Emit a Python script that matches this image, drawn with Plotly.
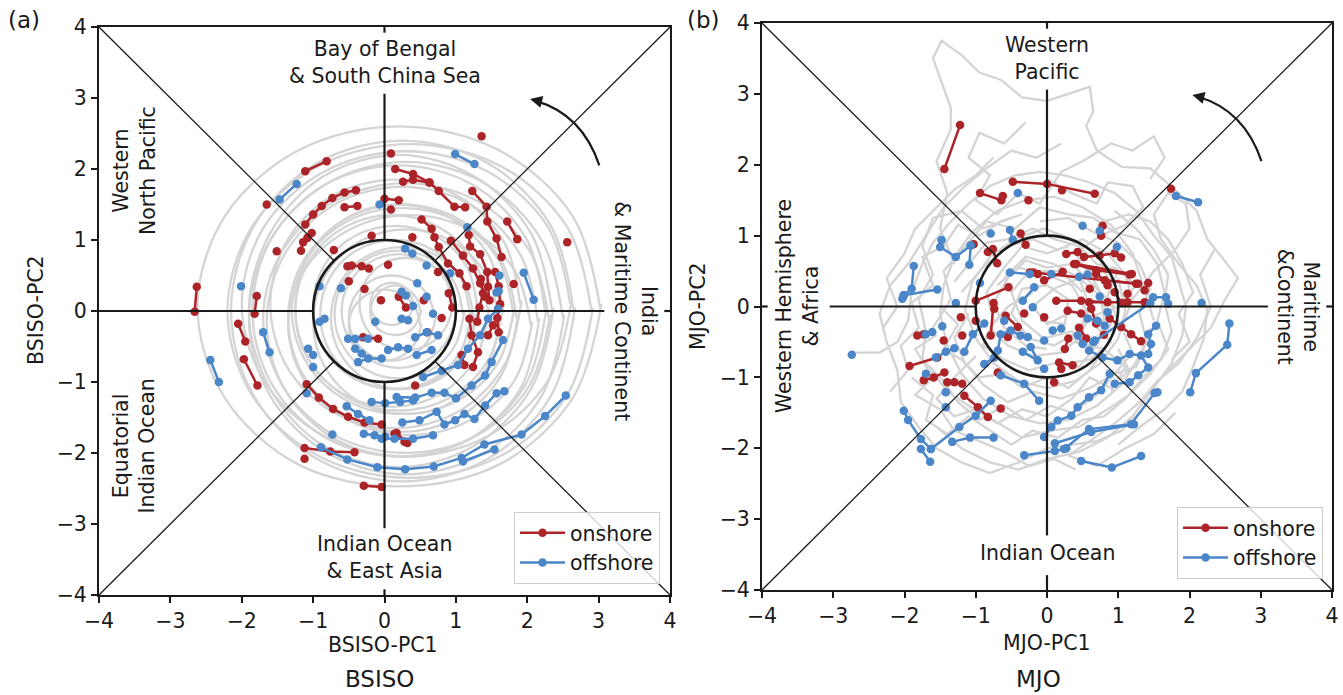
import plotly.graph_objects as go

# ---------------- DATA ----------------
# BSISO grey trajectories: each ring is a list of (PC1, PC2) points
bsiso_rings = [
    [(0.4,0.1),(0.36,0.25),(0.25,0.36),(0.1,0.4),(-0.05,0.36),(-0.16,0.25),(-0.2,0.1),(-0.16,-0.05),(-0.05,-0.16),(0.1,-0.2),(0.25,-0.16),(0.36,-0.05),(0.42,0.12)],
    [(0.50,0.0),(0.45,0.18),(0.33,0.30),(0.15,0.36),(-0.03,0.30),(-0.15,0.17),(-0.20,0.0),(-0.15,-0.18),(-0.02,-0.30),(0.15,-0.34),(0.32,-0.30),(0.45,-0.17),(0.52,0.02)],
    [(0.5,-0.2),(0.43,0.05),(0.25,0.23),(0,0.3),(-0.25,0.23),(-0.43,0.05),(-0.5,-0.2),(-0.43,-0.45),(-0.25,-0.63),(0,-0.7),(0.25,-0.63),(0.43,-0.45),(0.52,-0.18)],
    [(0.70,-0.1),(0.62,0.20),(0.40,0.42),(0.1,0.50),(-0.20,0.42),(-0.42,0.20),(-0.50,-0.1),(-0.42,-0.40),(-0.20,-0.62),(0.1,-0.70),(0.40,-0.62),(0.62,-0.40),(0.72,-0.08)],
    [(0.95,0.1),(0.86,0.43),(0.63,0.66),(0.3,0.75),(-0.03,0.66),(-0.26,0.43),(-0.35,0.1),(-0.26,-0.23),(-0.03,-0.46),(0.3,-0.55),(0.63,-0.46),(0.86,-0.23),(0.97,0.13)],
    [(1.0,0),(0.89,0.4),(0.6,0.69),(0.2,0.8),(-0.2,0.69),(-0.49,0.4),(-0.6,0),(-0.49,-0.4),(-0.2,-0.69),(0.2,-0.8),(0.6,-0.69),(0.89,-0.4),(1.02,0.03)],
    [(1.1,-0.05),(0.98,0.4),(0.65,0.73),(0.2,0.85),(-0.25,0.73),(-0.58,0.4),(-0.7,-0.05),(-0.58,-0.5),(-0.25,-0.83),(0.2,-0.95),(0.65,-0.83),(0.98,-0.5),(1.12,0.0)],
    [(1.25,-0.1),(1.12,0.4),(0.75,0.77),(0.25,0.9),(-0.25,0.77),(-0.62,0.4),(-0.75,-0.1),(-0.62,-0.6),(-0.25,-0.97),(0.25,-1.1),(0.75,-0.97),(1.12,-0.6),(1.27,-0.05)],
    [(1.2,-0.05),(1.06,0.48),(0.68,0.86),(0.15,1.0),(-0.38,0.86),(-0.76,0.48),(-0.9,-0.05),(-0.76,-0.58),(-0.38,-0.96),(0.15,-1.1),(0.68,-0.96),(1.06,-0.58),(1.22,0.0)],
    [(1.30,0.05),(1.15,0.63),(0.73,1.05),(0.15,1.2),(-0.43,1.05),(-0.85,0.63),(-1.0,0.05),(-0.85,-0.53),(-0.43,-0.95),(0.15,-1.1),(0.73,-0.95),(1.15,-0.53),(1.32,0.1)],
    [(1.45,0),(1.27,0.68),(0.78,1.17),(0.1,1.35),(-0.58,1.17),(-1.07,0.68),(-1.25,0),(-1.07,-0.68),(-0.58,-1.17),(0.1,-1.35),(0.78,-1.17),(1.27,-0.68),(1.47,0.05)],
    [(1.6,-0.15),(1.43,0.5),(0.95,0.98),(0.3,1.15),(-0.35,0.98),(-0.83,0.5),(-1.0,-0.15),(-0.83,-0.8),(-0.35,-1.28),(0.3,-1.45),(0.95,-1.28),(1.43,-0.8),(1.62,-0.1)],
    [(1.65,0.05),(1.46,0.78),(0.93,1.31),(0.2,1.5),(-0.53,1.31),(-1.06,0.78),(-1.25,0.05),(-1.06,-0.68),(-0.53,-1.21),(0.2,-1.4),(0.93,-1.21),(1.46,-0.68),(1.67,0.1)],
    [(1.8,0),(1.59,0.73),(1.03,1.26),(0.25,1.45),(-0.53,1.26),(-1.09,0.73),(-1.3,0),(-1.09,-0.73),(-0.53,-1.26),(0.25,-1.45),(1.03,-1.26),(1.59,-0.73),(1.82,0.05)],
    [(1.85,-0.1),(1.64,0.7),(1.05,1.29),(0.25,1.5),(-0.55,1.29),(-1.14,0.7),(-1.35,-0.1),(-1.14,-0.9),(-0.55,-1.49),(0.25,-1.7),(1.05,-1.49),(1.64,-0.9),(1.87,-0.05)],
    [(2.05,-0.2),(1.82,0.58),(1.2,1.14),(0.35,1.35),(-0.5,1.14),(-1.12,0.58),(-1.35,-0.2),(-1.12,-0.98),(-0.5,-1.54),(0.35,-1.75),(1.2,-1.54),(1.82,-0.98),(2.07,-0.15)],
    [(1.9,0.1),(1.67,0.98),(1.03,1.62),(0.15,1.85),(-0.73,1.62),(-1.37,0.98),(-1.6,0.1),(-1.37,-0.78),(-0.73,-1.42),(0.15,-1.65),(1.03,-1.42),(1.67,-0.78),(1.92,0.15)],
    [(2.15,-0.15),(1.9,0.8),(1.2,1.5),(0.25,1.75),(-0.7,1.5),(-1.4,0.8),(-1.65,-0.15),(-1.4,-1.1),(-0.7,-1.8),(0.25,-2.05),(1.2,-1.8),(1.9,-1.1),(2.17,-0.1)],
    [(2.3,-0.1),(2.03,0.85),(1.3,1.55),(0.3,1.8),(-0.7,1.55),(-1.43,0.85),(-1.7,-0.1),(-1.43,-1.05),(-0.7,-1.75),(0.3,-2.0),(1.3,-1.75),(2.03,-1.05),(2.32,-0.05)],
    [(2.25,0),(1.98,1.03),(1.23,1.78),(0.2,2.05),(-0.83,1.78),(-1.58,1.03),(-1.85,0),(-1.58,-1.03),(-0.83,-1.78),(0.2,-2.05),(1.23,-1.78),(1.98,-1.03),(2.27,0.05)],
    [(2.35,0),(2.05,1.1),(1.25,1.9),(0.2,2.2),(-0.85,1.9),(-1.6,1.1),(-1.9,0),(-1.6,-1.1),(-0.85,-1.9),(0.2,-2.2),(1.25,-1.9),(2.05,-1.1),(2.37,0.05)],
    [(2.6,0.1),(2.29,1.18),(1.45,1.96),(0.3,2.25),(-0.85,1.96),(-1.69,1.18),(-2.0,0.1),(-1.69,-0.98),(-0.85,-1.76),(0.3,-2.05),(1.45,-1.76),(2.29,-0.98),(2.62,0.15)],
    [(2.5,-0.1),(2.2,1.0),(1.4,1.8),(0.3,2.1),(-0.8,1.8),(-1.6,1.0),(-1.9,-0.1),(-1.6,-1.2),(-0.8,-2.0),(0.3,-2.3),(1.4,-2.0),(2.2,-1.2),(2.52,-0.05)],
    [(2.65,0),(2.33,1.2),(1.45,2.08),(0.25,2.4),(-0.95,2.08),(-1.83,1.2),(-2.15,0),(-1.83,-1.2),(-0.95,-2.08),(0.25,-2.4),(1.45,-2.08),(2.33,-1.2),(2.67,0.05)],
    [(2.9,0),(2.56,1.18),(1.63,2.04),(0.35,2.35),(-0.93,2.04),(-1.86,1.18),(-2.2,0),(-1.86,-1.18),(-0.93,-2.04),(0.35,-2.35),(1.63,-2.04),(2.56,-1.18),(2.92,0.05)],
    [(3.02,0.05),(2.64,1.33),(1.61,2.26),(0.2,2.6),(-1.21,2.26),(-2.24,1.33),(-2.62,0.05),(-2.24,-1.22),(-1.21,-2.16),(0.2,-2.47),(1.61,-2.16),(2.64,-1.22),(3.04,0.1)],
]

bsiso_onshore = [
    [(-1.11,1.97),(-0.81,2.11)], [(-1.65,1.50)],
    [(-1.11,1.22),(-1.0,1.36),(-0.88,1.48),(-0.73,1.59),(-0.56,1.67),(-0.40,1.70)],
    [(-0.56,1.46),(-0.38,1.48)], [(-1.17,0.85),(-1.14,0.97),(-1.08,1.03),(-1.02,1.10)],
    [(-1.51,0.84)], [(-0.71,0.86)], [(-0.18,1.06)],
    [(-0.52,0.63),(-0.46,0.64),(-0.32,0.63),(-0.22,0.60)], [(-0.50,0.42)], [(-0.28,0.31)],
    [(-2.63,0.34),(-2.66,-0.01)], [(-1.79,0.21),(-1.82,-0.04)],
    [(1.36,2.46)], [(0.09,2.22)],
    [(0.15,2.0),(0.40,1.93),(0.63,1.81),(0.76,1.69),(0.98,1.47),(1.13,1.46)],
    [(0.26,1.82),(0.40,1.85),(0.63,1.81)], [(0.0,1.58),(0.20,1.56)], [(0.09,1.43)],
    [(1.23,1.69),(1.43,1.47),(1.44,1.26),(1.57,1.02),(1.64,0.76)],
    [(1.72,1.26),(1.86,1.01)], [(2.56,0.97)],
    [(0.52,1.29),(0.66,1.16),(0.70,1.04),(0.76,0.90),(0.89,0.67),(1.05,0.53),(1.15,0.35)],
    [(1.18,1.07),(1.20,0.91),(1.34,0.80),(1.44,0.55),(1.45,0.34),(1.47,0.15)],
    [(0.93,0.99),(1.10,0.78),(1.24,0.60),(1.34,0.39),(1.41,0.20)],
    [(0.39,1.04)], [(1.81,0.38)],
    [(1.35,0.45),(1.38,0.25),(1.33,0.05),(1.30,-0.15)],
    [(1.55,0.55),(1.60,0.35),(1.62,0.10),(1.58,-0.10),(1.60,-0.30)],
    [(0.2,0.2),(0.3,0.05)], [(0.05,0.65)], [(0.75,0.55)], [(0.9,0.25),(0.95,0.05)],
    [(0.55,0.15)], [(0.8,-0.1)], [(-0.05,0.15)], [(0.6,-0.3)],
    [(-2.05,-0.18),(-1.95,-0.43)], [(-1.97,-0.68),(-1.78,-1.05)],
    [(-1.09,-1.03),(-0.92,-1.22),(-0.72,-1.38),(-0.51,-1.49),(-0.28,-1.57),(-0.04,-1.60)],
    [(-1.12,-1.93),(-0.76,-1.98),(-0.42,-1.99)], [(-1.12,-2.08)],
    [(-0.29,-2.46),(-0.04,-2.48)], [(-0.30,-0.37),(-0.09,-0.39)],
    [(0.43,-1.05)], [(0.14,-1.73),(0.28,-1.84)], [(0.17,-1.72),(0.32,-1.86)],
    [(1.19,-0.11),(1.22,-0.34),(1.31,-0.58),(1.24,-0.79)],
    [(1.45,-0.34),(1.52,-0.20)], [(1.08,-0.62),(1.12,-0.76)],
]

bsiso_offshore = [
    [(-1.47,1.57),(-1.23,1.79)], [(-0.07,1.50)], [(-0.91,0.35)], [(-0.61,0.32)], [(-2.01,0.35)],
    [(0.99,2.21),(1.26,2.07)], [(1.16,1.18)], [(1.95,0.54),(2.09,0.16)], [(1.61,0.50)],
    [(1.57,0.26),(1.60,0.28)], [(0.29,0.88),(0.39,0.81)], [(0.59,0.64)], [(0.92,0.53)],
    [(0.46,0.39)], [(0.24,0.27),(0.30,0.22)], [(0.59,0.20)], [(0.40,0.07)],
    [(-1.70,-0.30),(-1.61,-0.58)], [(-2.44,-0.69),(-2.32,-1.0)], [(-1.09,-1.16)],
    [(-0.53,-1.34),(-0.37,-1.45),(-0.21,-1.54)], [(-0.73,-1.74)],
    [(-0.89,-1.92),(-0.52,-2.09),(-0.10,-2.20),(0.29,-2.23),(0.69,-2.19),(1.08,-2.07),(1.40,-1.88),(1.92,-1.74),(2.25,-1.48),(2.54,-1.19)],
    [(1.10,-2.12),(1.54,-1.95)],
    [(-0.29,-1.73),(-0.14,-1.75),(0.01,-1.77)],
    [(-0.04,-1.80),(0.14,-1.80),(0.40,-1.80),(0.68,-1.75)],
    [(0.25,-1.57),(0.49,-1.54),(0.73,-1.42),(0.84,-1.60),(0.99,-1.54),(1.12,-1.45),(1.26,-1.52),(1.41,-1.33),(1.57,-1.16),(1.68,-1.13)],
    [(-0.18,-1.28),(0.01,-1.30),(0.22,-1.28),(0.40,-1.26)],
    [(0.17,-1.21),(0.43,-1.22),(0.66,-1.15),(0.84,-1.15),(1.0,-1.23),(1.22,-1.05),(1.41,-0.91),(1.50,-0.72),(1.66,-0.41)],
    [(0.54,-0.93),(0.80,-0.84),(1.03,-0.76),(1.17,-0.53),(1.34,-0.34),(1.45,-0.11),(1.59,0.03)],
    [(-1.07,-0.53),(-1.0,-0.62)], [(-1.0,-0.79)], [(-0.84,-0.11),(-0.91,-0.15)],
    [(-0.51,-0.39),(-0.41,-0.39),(-0.23,-0.39)], [(-0.41,-0.53),(-0.32,-0.60)], [(-0.13,-0.15)],
    [(-0.04,-0.67),(-0.23,-0.67),(-0.37,-0.72)], [(0.05,-0.55),(0.19,-0.51),(0.33,-0.53)],
    [(0.43,-0.37),(0.59,-0.30),(0.75,-0.34)], [(0.66,-0.55),(0.45,-0.62)],
    [(0.24,-0.11),(0.33,-0.13)], [(0.68,-0.04)],
]

# MJO grey trajectories (daily, jagged)
mjo_paths = [
    [(-2.7,-0.65),(-2.35,-0.65),(-2.1,-0.5),(-1.95,-0.2),(-1.9,0.2),(-1.75,0.6),(-1.6,0.9),(-1.35,1.2),(-1.1,1.45),(-0.8,1.7),(-0.45,1.85),(-0.1,1.9),(0.25,1.85),(0.6,1.75),(0.95,1.6),(1.25,1.35),(1.5,1.0),(1.75,0.7),(1.85,0.35),(1.95,0.0),(1.9,-0.4),(1.75,-0.8),(1.5,-1.15),(1.2,-1.55),(0.85,-1.85),(0.45,-2.05),(0.0,-2.15),(-0.4,-2.3),(-0.8,-2.2),(-1.2,-2.0),(-1.55,-1.7)],
    [(-1.3,0.6),(-1.5,1.1),(-1.4,1.6),(-1.55,2.05),(-1.35,2.5),(-1.35,2.8),(-1.6,3.5),(-1.48,3.75),(-1.2,3.55),(-0.95,3.3),(-0.65,3.2),(-0.35,2.95),(0.0,2.9),(0.3,3.0),(0.6,3.1),(0.65,2.75),(0.55,2.55),(0.7,2.2),(1.05,1.97),(1.45,1.95),(1.85,1.6),(2.1,1.35),(2.25,0.95),(2.45,0.7),(2.68,0.4),(2.5,0.1),(2.3,-0.3),(2.0,-0.6),(1.7,-0.9)],
    [(0.2,2.3),(-0.15,2.1),(-0.5,2.2),(-0.85,1.95),(-1.15,1.7),(-1.45,1.4),(-1.7,1.0),(-1.95,0.6),(-2.2,0.3),(-2.35,-0.1),(-2.25,-0.5),(-2.1,-0.9),(-2.05,-1.35),(-1.8,-1.7),(-1.55,-2.0),(-1.2,-2.2),(-0.8,-2.35),(-0.4,-2.2),(0.0,-2.0),(0.35,-1.95),(0.7,-1.9),(1.05,-1.75),(1.3,-1.5)],
    [(1.5,-0.2),(1.35,0.3),(1.2,0.75),(0.9,1.15),(0.5,1.4),(0.1,1.55),(-0.3,1.5),(-0.7,1.35),(-1.05,1.05),(-1.3,0.7),(-1.45,0.3),(-1.5,-0.1),(-1.4,-0.55),(-1.2,-0.95),(-0.9,-1.3),(-0.5,-1.55),(-0.1,-1.65),(0.3,-1.6),(0.7,-1.4),(1.05,-1.1),(1.3,-0.7),(1.45,-0.3)],
    [(0.9,0.3),(0.7,0.75),(0.35,0.95),(-0.05,1.1),(-0.45,0.95),(-0.8,0.7),(-1.05,0.35),(-1.15,-0.05),(-1.0,-0.45),(-0.75,-0.8),(-0.4,-1.05),(0.0,-1.15),(0.4,-1.05),(0.75,-0.8),(1.0,-0.45),(1.1,-0.05),(1.0,0.4)],
    [(-0.6,0.4),(-0.3,0.7),(0.1,0.6),(0.45,0.4),(0.6,0.0),(0.45,-0.35),(0.1,-0.55),(-0.25,-0.45),(-0.5,-0.1),(-0.35,0.25),(0.0,0.3),(0.3,0.1),(0.25,-0.25),(-0.1,-0.2)],
    [(-1.9,-1.0),(-1.6,-1.25),(-1.7,-1.6),(-1.4,-1.8),(-1.1,-1.55),(-0.8,-1.75),(-0.5,-1.95),(-0.2,-1.75),(0.15,-1.85),(0.5,-1.6),(0.8,-1.55),(1.1,-1.3),(1.35,-1.0),(1.6,-0.75),(1.75,-0.35),(1.65,0.05),(1.7,0.45),(1.5,0.8),(1.25,1.1),(0.95,1.35)],
    [(-0.5,1.25),(-0.9,1.1),(-1.2,1.35),(-1.6,1.25),(-1.75,0.85),(-1.6,0.45),(-1.8,0.1),(-1.7,-0.35),(-1.75,-0.75),(-1.45,-1.05),(-1.25,-1.35),(-0.95,-1.6),(-0.6,-1.4),(-0.3,-1.6),(0.05,-1.4),(0.35,-1.5),(0.7,-1.25),(0.95,-0.95),(1.25,-0.85),(1.4,-0.5),(1.3,-0.1),(1.45,0.25),(1.3,0.6),(1.0,0.9),(0.65,1.05),(0.3,1.25),(-0.1,1.2)],
    [(1.2,0.1),(1.5,0.5),(1.8,0.8),(2.0,1.1),(1.95,1.45),(1.7,1.6),(1.5,1.3),(1.6,0.95),(1.85,0.6),(2.1,0.3),(2.25,-0.05),(2.2,-0.45),(2.05,-0.85),(1.9,-1.2),(1.65,-1.45),(1.3,-1.7),(1.0,-1.95)],
    [(0.3,0.85),(0.0,0.75),(-0.35,0.85),(-0.6,0.55),(-0.85,0.2),(-0.75,-0.2),(-0.9,-0.55),(-0.6,-0.75),(-0.25,-0.9),(0.1,-0.8),(0.45,-0.85),(0.7,-0.55),(0.8,-0.2),(0.75,0.2),(0.55,0.55)],
    [(0.0,1.8),(0.35,1.6),(0.7,1.45),(0.85,1.75),(1.2,1.7),(1.35,1.4),(1.1,1.15),(0.75,1.0),(0.4,0.75),(0.6,0.45),(0.95,0.55),(1.25,0.3),(1.0,0.0),(0.6,-0.15),(0.4,-0.5),(0.8,-0.6),(1.1,-0.85),(0.9,-1.2)],
    [(-0.2,0.2),(-0.55,0.0),(-0.8,-0.3),(-0.55,-0.55),(-0.2,-0.7),(0.2,-0.65),(0.5,-0.4),(0.55,-0.05),(0.35,0.3),(0.0,0.45),(-0.4,0.55),(-0.7,0.3)],
    [(-1.2,0.2),(-0.9,0.55),(-0.55,0.85),(-0.2,0.95),(0.15,0.8),(0.5,0.95),(0.85,0.75),(1.1,0.45),(1.2,0.1),(1.05,-0.3),(1.2,-0.65),(0.95,-0.95),(0.6,-1.15),(0.2,-1.3),(-0.2,-1.2),(-0.55,-1.35),(-0.9,-1.1),(-1.15,-0.8),(-1.3,-0.45),(-1.1,-0.1)],
    [(-1.6,-0.3),(-1.35,0.1),(-1.45,0.5),(-1.15,0.85),(-0.85,1.2),(-0.45,1.1),(-0.1,1.4),(0.3,1.3),(0.65,1.25),(0.95,1.05),(1.3,0.95),(1.55,0.6),(1.65,0.2),(1.55,-0.2),(1.7,-0.6),(1.45,-0.95),(1.15,-1.25),(0.85,-1.45),(0.45,-1.7),(0.05,-1.75),(-0.35,-1.85),(-0.75,-1.6),(-1.1,-1.4),(-1.4,-1.2),(-1.65,-0.85)],
    [(0.5,0.2),(0.2,0.5),(-0.25,0.5),(-0.5,0.2),(-0.35,-0.2),(-0.05,-0.45),(0.35,-0.35),(0.65,-0.6),(0.9,-0.25),(0.75,0.15),(0.45,0.4),(0.1,0.25),(-0.2,0.0),(0.0,-0.25),(0.3,-0.1)],
    [(-2.2,-1.2),(-1.95,-0.9),(-2.05,-0.55),(-1.8,-0.3),(-1.9,0.05),(-1.6,0.3),(-1.75,0.7),(-1.45,0.85),(-1.25,1.15),(-0.95,1.0),(-0.65,1.2),(-0.35,1.3)],
    [(0.4,-2.3),(0.1,-2.15),(-0.25,-2.25),(-0.6,-2.05),(-0.95,-1.9),(-1.3,-1.75),(-1.5,-1.45),(-1.85,-1.25),(-1.6,-1.0),(-1.85,-0.6),(-1.55,-0.4)],
    [(1.8,-1.5),(1.5,-1.8),(1.1,-2.0),(0.7,-2.25),(0.3,-2.1),(0.6,-1.9),(0.95,-1.65),(1.3,-1.35),(1.55,-1.05),(1.85,-0.8),(2.1,-0.45),(2.3,0.0),(2.15,0.45),(2.35,0.8)],
    [(-0.3,2.6),(-0.6,2.3),(-0.95,2.45),(-1.1,2.1),(-0.8,1.85),(-1.0,1.5),(-0.7,1.3),(-0.4,1.6),(-0.1,1.45),(0.2,1.9),(0.5,2.05),(0.9,2.3),(1.2,2.2),(1.5,2.4),(1.65,2.1),(1.45,1.8)],
    [(0.8,1.2),(1.15,1.3),(1.45,1.2),(1.7,0.95),(1.9,0.6),(2.05,0.2),(1.85,-0.1),(2.0,-0.5),(1.75,-0.75)],
    [(-1.0,-0.7),(-1.3,-1.0),(-1.55,-1.3),(-1.3,-1.55),(-1.0,-1.45),(-0.7,-1.65),(-0.35,-1.45),(0.0,-1.55),(0.35,-1.3),(0.6,-1.0),(0.9,-1.15),(1.15,-0.9),(1.0,-0.6)],
    [(-1.5,0.0),(-1.25,-0.25),(-1.45,-0.6),(-1.2,-0.75),(-0.95,-1.0),(-0.6,-0.95),(-0.35,-1.15),(0.0,-1.0),(0.3,-1.15),(0.6,-0.9),(0.85,-0.55),(1.0,-0.2),(0.85,0.15),(1.0,0.5),(0.7,0.6),(0.45,0.85),(0.1,0.95),(-0.2,1.1),(-0.55,0.95),(-0.85,0.9),(-1.1,0.6),(-1.3,0.35)],
    [(-2.3,-0.3),(-2.1,0.0),(-2.25,0.4),(-2.0,0.75),(-1.85,1.1),(-1.55,1.4),(-1.3,1.65),(-1.0,1.85),(-0.75,2.1)],
    [(0.3,-0.8),(0.6,-0.75),(0.9,-0.5),(0.7,-0.3),(0.95,0.0),(0.65,0.3),(0.35,0.6),(0.0,0.55),(-0.3,0.65),(-0.55,0.4),(-0.75,0.05),(-0.6,-0.3),(-0.3,-0.55),(0.0,-0.6)],
]

mjo_onshore = [
    [(-1.44,1.94),(-1.22,2.56)], [(-0.48,1.76),(0.0,1.73),(0.67,1.59)], [(0.21,1.64)],
    [(-0.94,1.60),(-0.64,1.50),(-0.62,1.56)], [(-0.26,1.50)], [(-0.37,1.03),(-0.30,0.87)],
    [(-0.83,0.77),(-0.76,0.81),(-0.70,0.61)], [(-1.03,0.88)], [(-0.24,0.48),(-0.13,0.46)],
    [(-1.0,0.08),(-0.54,0.27)], [(-0.75,0.05),(-0.79,-0.41)], [(1.74,1.66)],
    [(0.78,1.14),(0.76,1.0)],
    [(0.27,0.74),(0.43,0.77),(0.52,0.70),(0.74,0.72),(0.95,0.75),(1.04,0.69)],
    [(0.38,0.60),(0.69,0.51),(1.16,0.45)], [(0.69,0.46),(0.81,0.37),(1.25,0.32)],
    [(1.42,0.33)], [(1.37,0.23)], [(1.13,0.18)], [(-0.04,0.37),(0.22,0.49)],
    [(0.13,0.08),(0.48,0.08),(0.85,0.06)], [(-0.19,0.48),(1.28,0.32)], [(0.41,0.60),(1.19,0.46)],
    [(0.59,0.06),(1.13,0.06),(1.37,0.06)],
    [(-1.93,-0.84),(-1.54,-0.72)], [(-1.82,-0.41),(-1.73,-0.39)],
    [(-1.73,-1.04),(-1.59,-1.0),(-1.44,-0.93)], [(-1.40,-1.07),(-1.30,-1.07),(-1.19,-1.09)],
    [(-1.16,-1.26),(-0.97,-1.42),(-0.83,-1.56)],
    [(-0.74,-0.03)], [(-1.19,-0.41)], [(-0.58,-0.13),(-0.41,-0.29)], [(-0.32,-0.10)],
    [(-0.04,-0.15)], [(-0.55,-0.43)], [(-0.69,-0.93)], [(-0.65,-1.44)],
    [(1.32,-0.49),(1.18,-0.39),(1.04,-0.29),(0.88,-0.17)],
    [(0.17,-0.79),(0.36,-0.83)], [(0.20,-0.88)], [(0.10,-1.07)], [(0.29,-0.06),(0.48,-0.10)],
    [(0.62,-0.03),(0.69,-0.24)], [(0.45,-0.30),(0.55,-0.45)], [(0.80,-0.40)],
    [(0.30,-0.45),(0.25,-0.60)], [(0.85,0.30)], [(0.60,0.25)], [(0.95,0.20),(1.05,0.05)],
    [(-1.21,-0.15)], [(-1.0,-0.20)], [(-1.45,-0.48)],
]

mjo_offshore = [
    [(-0.41,1.60)], [(-1.48,0.94),(-1.50,0.84),(-1.28,0.70),(-1.07,0.86)],
    [(-1.07,0.86),(-1.09,0.59)], [(-0.79,1.03)], [(-0.52,1.08),(-0.48,0.94)],
    [(-1.87,0.57),(-1.90,0.25),(-2.01,0.16),(-2.03,0.11)], [(-2.01,0.16),(-1.54,0.24)],
    [(-0.52,0.48),(-0.24,0.46)], [(-0.34,0.08),(-0.18,0.27)], [(-0.94,0.33)], [(-1.28,0.05)],
    [(1.81,1.56),(2.12,1.47)], [(0.50,1.14)], [(0.74,1.07)], [(0.98,0.84)],
    [(0.06,0.46)], [(0.45,0.42),(0.57,0.45)], [(0.74,0.14)],
    [(1.49,0.13),(1.67,0.13),(1.70,0.04)], [(2.17,0.05)], [(-2.74,-0.68)],
    [(-1.70,-0.39),(-1.61,-0.36)], [(-1.47,-0.28)],
    [(-1.56,-0.72),(-1.42,-0.64),(-1.30,-0.59)], [(-1.70,-0.95)], [(-1.42,-1.21)], [(-1.42,-1.42)],
    [(-2.01,-1.47),(-1.95,-1.60),(-1.77,-1.87),(-1.63,-2.01)], [(-1.77,-2.01),(-1.64,-2.19)],
    [(-1.63,-2.01),(-1.23,-1.70),(-1.0,-1.54),(-0.79,-1.33)],
    [(-1.33,-1.91),(-1.08,-1.85),(-0.75,-1.85)], [(-0.32,-2.10),(0.11,-2.04),(0.27,-2.0)],
    [(-1.16,-0.64),(-1.04,-0.39),(-0.88,-0.24)],
    [(-0.69,-0.62),(-0.65,-0.39),(-0.51,-0.34),(-0.37,-0.41),(-0.27,-0.43)],
    [(-0.34,-0.64),(-0.13,-0.76),(-0.23,-0.57)], [(-0.20,-0.01)], [(-0.60,-0.20)],
    [(-0.74,-0.72),(-0.88,-0.81)], [(-0.65,-0.97),(-0.32,-1.09),(-0.11,-1.33)],
    [(2.56,-0.24),(2.53,-0.54),(2.09,-0.94),(2.01,-1.21)],
    [(1.51,-1.22),(1.18,-1.66),(0.59,-1.73),(0.24,-2.01)],
    [(0.48,-2.18),(0.91,-2.27),(1.32,-2.11)],
    [(1.53,-0.27),(1.42,-0.39),(1.46,-0.53),(1.42,-0.67)],
    [(0.59,-0.62),(0.78,-0.72),(0.99,-0.76),(1.16,-0.67),(1.32,-0.69),(1.42,-0.86),(1.28,-0.97),(1.16,-1.07),(0.95,-1.09)],
    [(0.50,-0.53),(0.43,-0.41)], [(0.67,-0.48)], [(0.57,-0.17),(0.71,-0.20),(0.81,-0.27)],
    [(0.85,-0.08)], [(0.20,-0.31)], [(-0.04,-0.48)], [(-0.04,-0.88)], [(0.08,-0.34)],
    [(0.88,-0.95),(0.76,-1.18),(0.59,-1.28),(0.43,-1.42),(0.34,-1.54),(0.15,-1.61),(0.06,-1.70),(-0.04,-1.84)],
    [(0.11,-1.93),(0.62,-1.77),(1.22,-1.66)], [(1.55,-1.21)], [(0.65,-0.50),(1.45,0.05)],
]

tick_vals = [-4, -3, -2, -1, 0, 1, 2, 3, 4]
tick_text = ["\u22124", "\u22123", "\u22122", "\u22121", "0", "1", "2", "3", "4"]

RED = "#ac2428"
BLUE = "#4a86c8"
GREY = "#d4d4d4"
INK = "#1a1a1a"
FONT = "DejaVu Sans"
FS = 20.5


def flatten(segments):
    xs, ys = [], []
    for seg in segments:
        for (px, py) in seg:
            xs.append(px)
            ys.append(py)
        xs.append(None)
        ys.append(None)
    return xs, ys


fig = go.Figure()

gx, gy = flatten(bsiso_rings)
fig.add_trace(go.Scatter(x=gx, y=gy, mode="lines", line=dict(color=GREY, width=2.3, shape="spline", smoothing=1.0),
                         showlegend=False, hoverinfo="skip", xaxis="x", yaxis="y"))
gx, gy = flatten(mjo_paths)
fig.add_trace(go.Scatter(x=gx, y=gy, mode="lines", line=dict(color=GREY, width=2.3),
                         showlegend=False, hoverinfo="skip", xaxis="x2", yaxis="y2"))

for segs, col, name, xa, ya, lg in [
    (bsiso_onshore, RED, "onshore", "x", "y", "legend"),
    (bsiso_offshore, BLUE, "offshore", "x", "y", "legend"),
    (mjo_onshore, RED, "onshore", "x2", "y2", "legend2"),
    (mjo_offshore, BLUE, "offshore", "x2", "y2", "legend2"),
]:
    sx, sy = flatten(segs)
    fig.add_trace(go.Scatter(x=sx, y=sy, mode="lines+markers", name=name,
                             line=dict(color=col, width=2.5), marker=dict(color=col, size=8.5),
                             xaxis=xa, yaxis=ya, legend=lg))

shapes = []
annotations = []
s2 = 0.70710678


def seg(xr, yr, x0, y0, x1, y1, w):
    shapes.append(dict(type="line", xref=xr, yref=yr, x0=x0, y0=y0, x1=x1, y1=y1,
                       line=dict(color=INK, width=w), layer="above"))


for xr, yr, hl, hr, vt, vb in [("x", "y", -4.0, 3.08, 3.06, -3.06), ("x2", "y2", -3.05, 3.10, 3.06, -3.23)]:
    for sx_, sy_ in [(-1, 1), (1, 1), (-1, -1), (1, -1)]:
        seg(xr, yr, 4 * sx_, 4 * sy_, s2 * sx_, s2 * sy_, 1.3)
    seg(xr, yr, hl, 0, -1, 0, 2.2)
    seg(xr, yr, 1, 0, hr, 0, 2.2)
    seg(xr, yr, 0, 1, 0, vt, 2.2)
    seg(xr, yr, 0, -1, 0, vb, 2.2)
    seg(xr, yr, 3.92, 0, 4, 0, 2.2)
    seg(xr, yr, 0, 3.92, 0, 4, 2.2)
    if xr == "x":
        seg(xr, yr, 0, -3.92, 0, -4, 2.2)
    else:
        seg(xr, yr, -4, 0, -3.92, 0, 2.2)
        seg(xr, yr, 0, -3.79, 0, -4, 2.2)
    shapes.append(dict(type="circle", xref=xr, yref=yr, x0=-1, y0=-1, x1=1, y1=1,
                       line=dict(color=INK, width=2.6), layer="above"))
    shapes.append(dict(type="path", xref=xr, yref=yr, path="M 3.01,2.05 Q 2.77,2.77 2.12,2.96",
                       line=dict(color=INK, width=2.2), layer="above"))
    annotations.append(dict(xref=xr, yref=yr, axref=xr, ayref=yr, x=2.04, y=2.985, ax=2.22, ay=2.94,
                            text="", showarrow=True, arrowhead=2, arrowsize=1.1, arrowwidth=2.2,
                            arrowcolor=INK, standoff=0))

fig.update_layout(shapes=shapes)


def note(text, xr, yr, x, y, angle=0, size=FS):
    annotations.append(dict(text=text, xref=xr, yref=yr, x=x, y=y, showarrow=False, textangle=angle,
                            font=dict(family=FONT, size=size, color=INK), align="center",
                            xanchor="center", yanchor="middle"))


note("Bay of Bengal<br>& South China Sea", "x", "y", 0, 3.5)
note("Western<br>North Pacific", "x", "y", -3.5, 1.98, angle=-90)
note("India<br>& Maritime Continent", "x", "y", 3.52, 0, angle=90)
note("Equatorial<br>Indian Ocean", "x", "y", -3.5, -1.9, angle=-90)
note("Indian Ocean<br>& East Asia", "x", "y", 0, -3.47)
note("Western<br>Pacific", "x2", "y2", 0, 3.5)
note("Western Hemisphere<br>& Africa", "x2", "y2", -3.5, 0, angle=-90)
note("Maritime<br>&Continent", "x2", "y2", 3.52, 0, angle=90)
note("Indian Ocean", "x2", "y2", 0, -3.48)

note("BSISO-PC1", "paper", "paper", 383 / 1343, 1 - 645 / 695)
note("BSISO", "paper", "paper", 380 / 1343, 1 - 679 / 695, size=23)
note("BSISO-PC2", "paper", "paper", 36 / 1343, 1 - 310 / 695, angle=-90)
note("MJO-PC1", "paper", "paper", 1047 / 1343, 1 - 643 / 695)
note("MJO", "paper", "paper", 1038 / 1343, 1 - 679 / 695, size=23)
note("MJO-PC2", "paper", "paper", 698 / 1343, 1 - 306 / 695, angle=-90)
note("(a)", "paper", "paper", 24 / 1343, 1 - 20 / 695, size=23)
note("(b)", "paper", "paper", 703 / 1343, 1 - 20 / 695, size=23)

fig.update_layout(annotations=annotations)

axis_common = dict(range=[-4, 4], tickvals=tick_vals, ticktext=tick_text, ticks="outside", ticklen=6,
                   tickwidth=1.5, tickcolor=INK, showline=True, linewidth=2, linecolor=INK,
                   mirror=True, showgrid=False, zeroline=False, automargin=False,
                   tickfont=dict(family=FONT, size=FS, color=INK))

legend_common = dict(xanchor="right", yanchor="bottom", bgcolor="rgba(255,255,255,0.8)",
                     bordercolor="#cccccc", borderwidth=1, itemwidth=45,
                     font=dict(family=FONT, size=FS, color=INK))

fig.update_layout(
    width=1343, height=695, autosize=False,
    margin=dict(l=0, r=0, t=0, b=0, pad=0, autoexpand=False),
    paper_bgcolor="white", plot_bgcolor="white",
    font=dict(family=FONT, size=FS, color=INK),
    xaxis=dict(domain=[99 / 1343, 670 / 1343], anchor="y", **axis_common),
    yaxis=dict(domain=[1 - 595 / 695, 1 - 27 / 695], anchor="x", **axis_common),
    xaxis2=dict(domain=[762 / 1343, 1332 / 1343], anchor="y2", **axis_common),
    yaxis2=dict(domain=[1 - 590 / 695, 1 - 23 / 695], anchor="x2", **axis_common),
    legend=dict(x=660 / 1343, y=1 - 584 / 695, **legend_common),
    legend2=dict(x=1323 / 1343, y=1 - 579 / 695, **legend_common),
)

# the page's default body margin would offset the 1343x695 figure; remove it
fig.write_html("out.html", config={"displayModeBar": False},
               post_script="document.body.style.margin='0px';document.body.style.overflow='hidden';")
